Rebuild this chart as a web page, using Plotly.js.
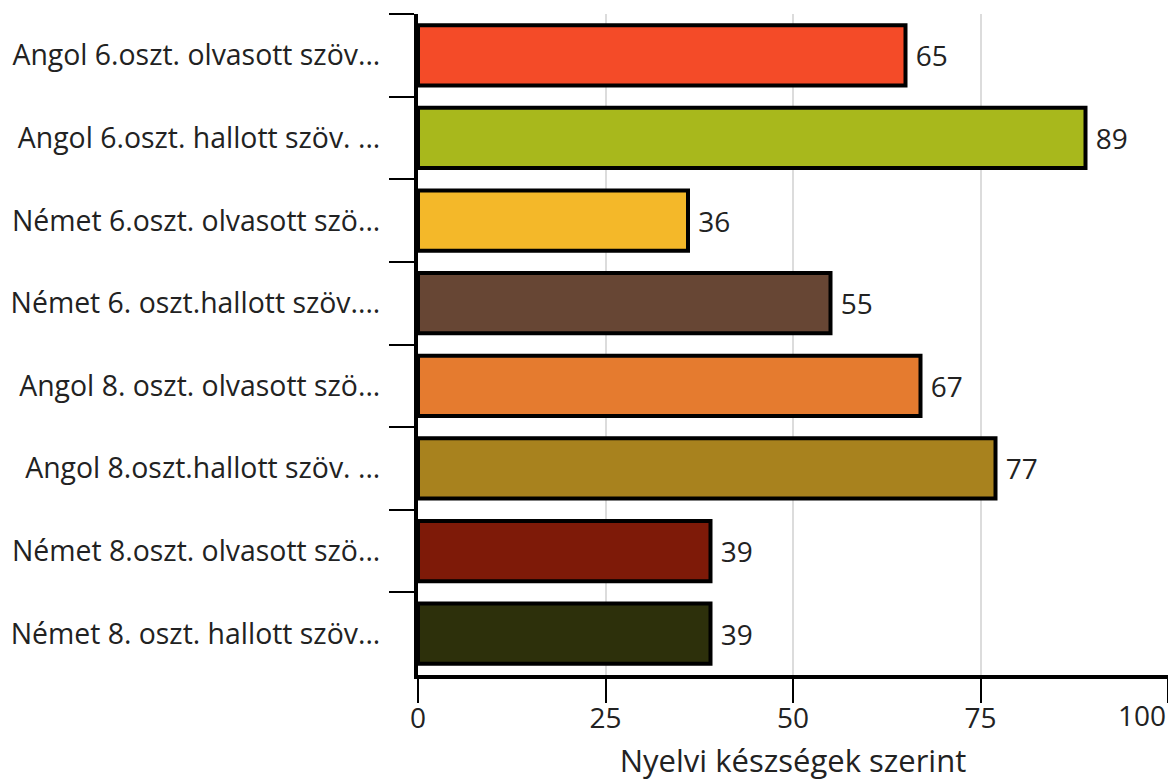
<!DOCTYPE html>
<html>
<head>
<meta charset="utf-8">
<script src="https://cdn.plot.ly/plotly-3.0.1.min.js"></script>
<style>html,body{margin:0;padding:0;background:#fff;}#chart{width:1168px;height:782px;}</style>
</head>
<body>
<div id="chart"></div>
<script>
const categories = [
  "Angol 6.oszt. olvasott szöv...",
  "Angol 6.oszt. hallott szöv. ...",
  "Német 6.oszt. olvasott szö...",
  "Német 6. oszt.hallott szöv....",
  "Angol 8. oszt. olvasott szö...",
  "Angol 8.oszt.hallott szöv. ...",
  "Német 8.oszt. olvasott szö...",
  "Német 8. oszt. hallott szöv..."
];
const values = [65, 89, 36, 55, 67, 77, 39, 39];
const barColors = ["#F44B28", "#A8B81C", "#F4B829", "#674634", "#E57B2F", "#A8821E", "#7E1A08", "#2D300B"];
const xTickVals = [0, 25, 50, 75, 100];
const xTickText = ["0", "25", "50", "75", "100"];
const xTitle = "Nyelvi készségek szerint";

const font = {family: "Open Sans, sans-serif", size: 28, color: "#222"};

// last tick label is drawn right-aligned at its tick so it stays inside the page
const lastIdx = xTickVals.length - 1;
const shownTickText = xTickText.map((t, i) => i === lastIdx ? "" : t);

Plotly.newPlot("chart", [{
  type: "bar",
  orientation: "h",
  y: categories,
  x: values,
  marker: {color: barColors, line: {color: "#000", width: 4}},
  text: values.map(v => "\u00a0" + v),
  textposition: "outside",
  textfont: font,
  cliponaxis: false,
  hoverinfo: "none"
}], {
  width: 1168,
  height: 782,
  margin: {l: 418, r: 0, t: 14, b: 107, pad: 0},
  paper_bgcolor: "#fff",
  plot_bgcolor: "#fff",
  font: font,
  bargap: 0.27,
  showlegend: false,
  xaxis: {
    range: [0, 100],
    tickvals: xTickVals,
    ticktext: shownTickText,
    showgrid: true,
    gridcolor: "#dcdcdc",
    gridwidth: 2,
    zeroline: false,
    showline: true,
    linecolor: "#000",
    linewidth: 4,
    ticks: "outside",
    ticklen: 24,
    tickwidth: 2,
    tickcolor: "#000",
    tickfont: font,
    ticklabelstandoff: -9,
    title: {text: xTitle, font: {family: "Open Sans, sans-serif", size: 31, color: "#222"}, standoff: 17},
    fixedrange: true
  },
  yaxis: {
    type: "category",
    autorange: "reversed",
    showline: true,
    linecolor: "#000",
    linewidth: 4,
    ticks: "outside",
    tickson: "boundaries",
    ticklen: 25,
    tickwidth: 2,
    tickcolor: "#000",
    tickfont: {family: "Open Sans, sans-serif", size: 28.4, color: "#222"},
    ticklabelstandoff: 28,
    showgrid: false,
    zeroline: false,
    fixedrange: true
  },
  annotations: [{
    x: xTickVals[lastIdx], xref: "x",
    y: 0, yref: "paper",
    text: xTickText[lastIdx],
    showarrow: false,
    xanchor: "right", yanchor: "top",
    yshift: -19,
    font: font
  }]
}, {displayModeBar: false, staticPlot: true});
</script>
</body>
</html>
